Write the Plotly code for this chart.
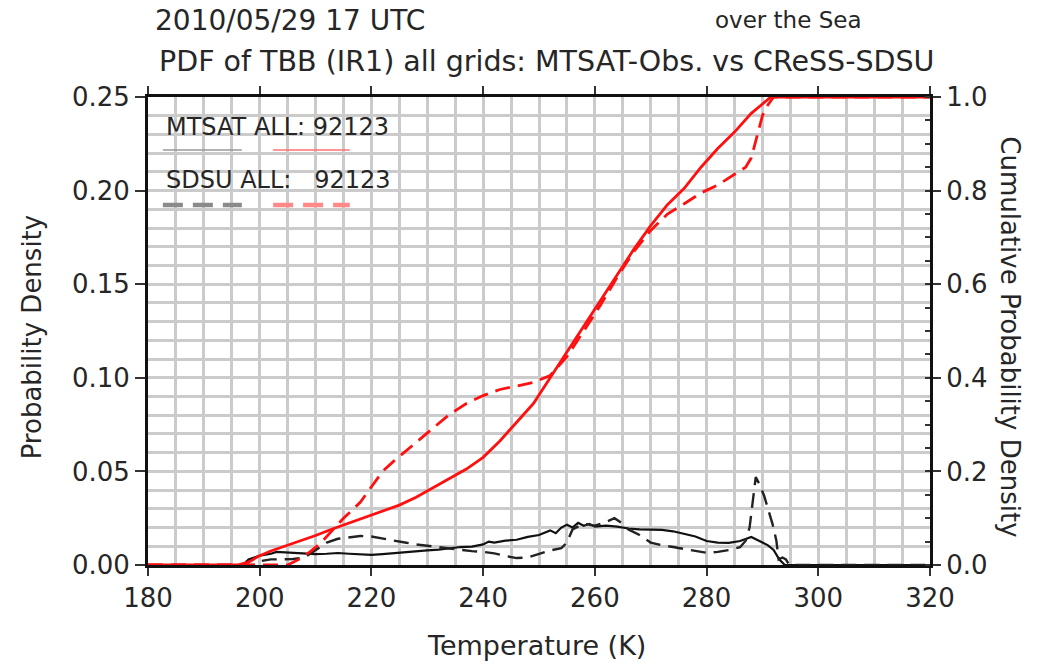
import plotly.graph_objects as go

# ---------------- data ----------------
# Cumulative probability (right axis), MTSAT observation (solid red)
cdf_mtsat_t = [180, 196, 198, 200, 202, 204, 207, 210, 213, 216, 219, 222, 225, 228, 231, 234,
               237, 240, 243, 246, 249, 252, 255, 258, 261, 264, 267, 270, 273, 276, 279, 282,
               285, 288, 290, 291.5, 320]
cdf_mtsat_v = [0, 0, 0.006, 0.02, 0.03, 0.038, 0.05, 0.063, 0.077, 0.09, 0.103, 0.115, 0.128, 0.145,
               0.165, 0.185, 0.205, 0.23, 0.265, 0.305, 0.345, 0.40, 0.455, 0.51, 0.565, 0.62, 0.675,
               0.725, 0.77, 0.805, 0.85, 0.89, 0.925, 0.965, 0.985, 1.0, 1.0]

# Cumulative probability, CReSS-SDSU simulation (dashed red)
cdf_sdsu_t = [180, 205, 207, 209, 211, 213, 215, 218, 220, 222, 224, 226, 228, 231, 234, 237, 240,
              243, 246, 249, 252, 255, 258, 261, 264, 267, 270, 273, 276, 279, 282, 285, 287, 288,
              288.7, 289.3, 290, 290.8, 291.5, 292, 320]
cdf_sdsu_v = [0, 0, 0.012, 0.028, 0.048, 0.075, 0.1, 0.134, 0.168, 0.2, 0.222, 0.242, 0.262, 0.29,
              0.322, 0.345, 0.362, 0.375, 0.383, 0.39, 0.405, 0.445, 0.5, 0.555, 0.615, 0.67, 0.715,
              0.75, 0.772, 0.795, 0.812, 0.835, 0.85, 0.87, 0.9, 0.93, 0.96, 0.98, 0.993, 1.0, 1.0]

# Probability density (left axis), MTSAT observation (solid black)
pdf_mtsat_t = [180, 197, 198, 199, 200, 201, 202, 203, 204, 206, 208, 210, 212, 214, 216, 218, 220,
               222, 224, 226, 228, 230, 232, 234, 236, 238, 240, 241, 242, 244, 246, 248, 250, 252,
               253, 254, 255, 256, 257, 258, 259, 260, 262, 264, 266, 268, 270, 272, 274, 276, 278,
               280, 282, 284, 286, 288, 289, 290, 291, 292, 293, 294, 320]
pdf_mtsat_v = [0, 0, 0.003, 0.004, 0.005, 0.0055, 0.006, 0.007, 0.0068, 0.0065, 0.0064, 0.0058,
               0.006, 0.0064, 0.006, 0.0055, 0.0054, 0.0058, 0.0064, 0.007, 0.0072, 0.0078, 0.0082,
               0.009, 0.0096, 0.0098, 0.011, 0.0125, 0.012, 0.013, 0.0135, 0.015, 0.016, 0.0185,
               0.017, 0.02, 0.0215, 0.02, 0.0225, 0.021, 0.022, 0.0205, 0.021, 0.0205, 0.0195, 0.019,
               0.019, 0.0188, 0.018, 0.0165, 0.0152, 0.0128, 0.012, 0.0118, 0.0128, 0.015, 0.0135,
               0.012, 0.0105, 0.008, 0.003, 0, 0]

# Probability density, CReSS-SDSU simulation (dashed black)
pdf_sdsu_t = [180, 199, 200, 202, 204, 206, 208, 209, 210, 211, 212, 214, 216, 218, 220, 222, 224,
              226, 228, 230, 232, 234, 236, 238, 240, 242, 244, 246, 248, 250, 252, 254, 255, 256,
              258, 260, 262, 263.5, 265, 266, 268, 270, 272, 274, 276, 278, 280, 282, 284, 286, 287,
              287.7, 288.3, 288.8, 289.5, 290.3, 291, 291.8, 292.5, 292.9, 293.6, 294.2, 294.8, 320]
pdf_sdsu_v = [0, 0, 0.002, 0.003, 0.003, 0.0032, 0.004, 0.006, 0.008, 0.01, 0.012, 0.014, 0.0148,
              0.0155, 0.0152, 0.014, 0.0128, 0.012, 0.011, 0.0102, 0.0094, 0.0087, 0.008, 0.0074,
              0.007, 0.0062, 0.0048, 0.0037, 0.004, 0.006, 0.0078, 0.009, 0.012, 0.019, 0.022, 0.021,
              0.023, 0.025, 0.022, 0.019, 0.016, 0.012, 0.0105, 0.0096, 0.0085, 0.0072, 0.0065,
              0.007, 0.008, 0.0095, 0.013, 0.02, 0.035, 0.047, 0.043, 0.037, 0.03, 0.022, 0.013,
              0.003, 0.004, 0.003, 0, 0]

assert len(cdf_mtsat_t) == len(cdf_mtsat_v)
assert len(cdf_sdsu_t) == len(cdf_sdsu_v)
assert len(pdf_mtsat_t) == len(pdf_mtsat_v)
assert len(pdf_sdsu_t) == len(pdf_sdsu_v)

x_ticks = [180, 200, 220, 240, 260, 280, 300, 320]
pdf_ticks = [0.0, 0.05, 0.10, 0.15, 0.20, 0.25]
cdf_ticks = [0.0, 0.2, 0.4, 0.6, 0.8, 1.0]

title_line1 = "2010/05/29 17 UTC"
title_region = "over the Sea"
title_line2 = "PDF of TBB (IR1) all grids: MTSAT-Obs. vs CReSS-SDSU"
legend_line1 = "MTSAT ALL: 92123"
legend_line2 = "SDSU ALL:   92123"

# ---------------- figure ----------------
FONT = "DejaVu Sans, Liberation Sans, Arial, sans-serif"
TXT = "#262626"
GRID = "#cbcbcb"

fig = go.Figure()

fig.add_trace(go.Scatter(x=pdf_mtsat_t, y=pdf_mtsat_v, mode="lines", yaxis="y",
                         line=dict(color="#111111", width=2.2)))
fig.add_trace(go.Scatter(x=pdf_sdsu_t, y=pdf_sdsu_v, mode="lines", yaxis="y",
                         line=dict(color="#222222", width=2.4, dash="15px,8px")))
fig.add_trace(go.Scatter(x=cdf_mtsat_t, y=cdf_mtsat_v, mode="lines", yaxis="y2",
                         line=dict(color="#ff1010", width=2.8)))
fig.add_trace(go.Scatter(x=cdf_sdsu_t, y=cdf_sdsu_v, mode="lines", yaxis="y2",
                         line=dict(color="#ff1010", width=2.8, dash="15px,8px")))

fig.update_layout(
    width=1038, height=667,
    margin=dict(l=148, r=108, t=97, b=102, autoexpand=False),
    paper_bgcolor="white", plot_bgcolor="white",
    showlegend=False,
    font=dict(family=FONT, size=26, color=TXT),
    xaxis=dict(range=[180, 320], tickvals=x_ticks, ticks="outside", ticklen=8, tickwidth=2,
               tickcolor="#333", showline=True, linewidth=3, linecolor="#111", mirror="ticks",
               showgrid=True, gridcolor=GRID, gridwidth=2.5, zeroline=False, layer="below traces",
               minor=dict(dtick=5, tick0=180, showgrid=True, gridcolor=GRID, gridwidth=2.5),
               tickfont=dict(family=FONT, size=26, color=TXT)),
    yaxis=dict(range=[0, 0.25], tickvals=pdf_ticks, tickformat=".2f", ticks="outside",
               ticklen=10, tickwidth=2, tickcolor="#333", showline=True, linewidth=3,
               linecolor="#111", showgrid=True, gridcolor=GRID, gridwidth=2.5, zeroline=False,
               minor=dict(dtick=0.01, tick0=0, showgrid=True, gridcolor=GRID, gridwidth=2.5),
               tickfont=dict(family=FONT, size=26, color=TXT)),
    yaxis2=dict(range=[0, 1], tickvals=cdf_ticks, tickformat=".1f", overlaying="y", side="right",
                ticks="outside", ticklen=8, tickwidth=2, tickcolor="#333", showline=True,
                linewidth=3, linecolor="#111", showgrid=False, zeroline=False,
                minor=dict(dtick=0.05, ticks="inside", ticklen=5, tickcolor="#333"),
                tickfont=dict(family=FONT, size=26, color=TXT)),
)

# legend box (white) and sample lines
fig.add_shape(type="rect", xref="paper", yref="paper", x0=0.0, x1=0.428, y0=0.722, y1=1.0,
              fillcolor="white", line=dict(width=0), layer="between")
fig.add_shape(type="line", xref="paper", yref="paper", x0=0.019, x1=0.12, y0=0.887, y1=0.887,
              line=dict(color="#9a9a9a", width=1.5))
fig.add_shape(type="line", xref="paper", yref="paper", x0=0.16, x1=0.258, y0=0.887, y1=0.887,
              line=dict(color="#ff7070", width=1.5))
fig.add_shape(type="line", xref="paper", yref="paper", x0=0.019, x1=0.12, y0=0.769, y1=0.769,
              line=dict(color="#8a8a8a", width=4.5, dash="20px,10px"))
fig.add_shape(type="line", xref="paper", yref="paper", x0=0.16, x1=0.258, y0=0.769, y1=0.769,
              line=dict(color="#ff8888", width=4.5, dash="20px,10px"))

def ann(text, x, y, size, xanchor="left", angle=0):
    fig.add_annotation(text=text, xref="paper", yref="paper", x=x, y=y, showarrow=False,
                       xanchor=xanchor, yanchor="middle", textangle=angle,
                       font=dict(family=FONT, size=size, color=TXT))

ann(legend_line1, 0.021, 0.936, 24)
ann(legend_line2, 0.021, 0.823, 24)
ann(title_line1, 0.0064, 1.1645, 28)
ann(title_region, 0.7225, 1.1645, 23)
ann(title_line2, 0.0115, 1.0748, 28.5)
ann("Temperature (K)", 0.497, -0.171, 27, xanchor="center")
ann("Probability Density", -0.148, 0.487, 26, xanchor="center", angle=-90)
ann("Cumulative Probability Density", 1.102, 0.487, 26, xanchor="center", angle=90)

fig.write_html("out.html", config={"displayModeBar": False},
               post_script="document.body.style.margin='0';")
